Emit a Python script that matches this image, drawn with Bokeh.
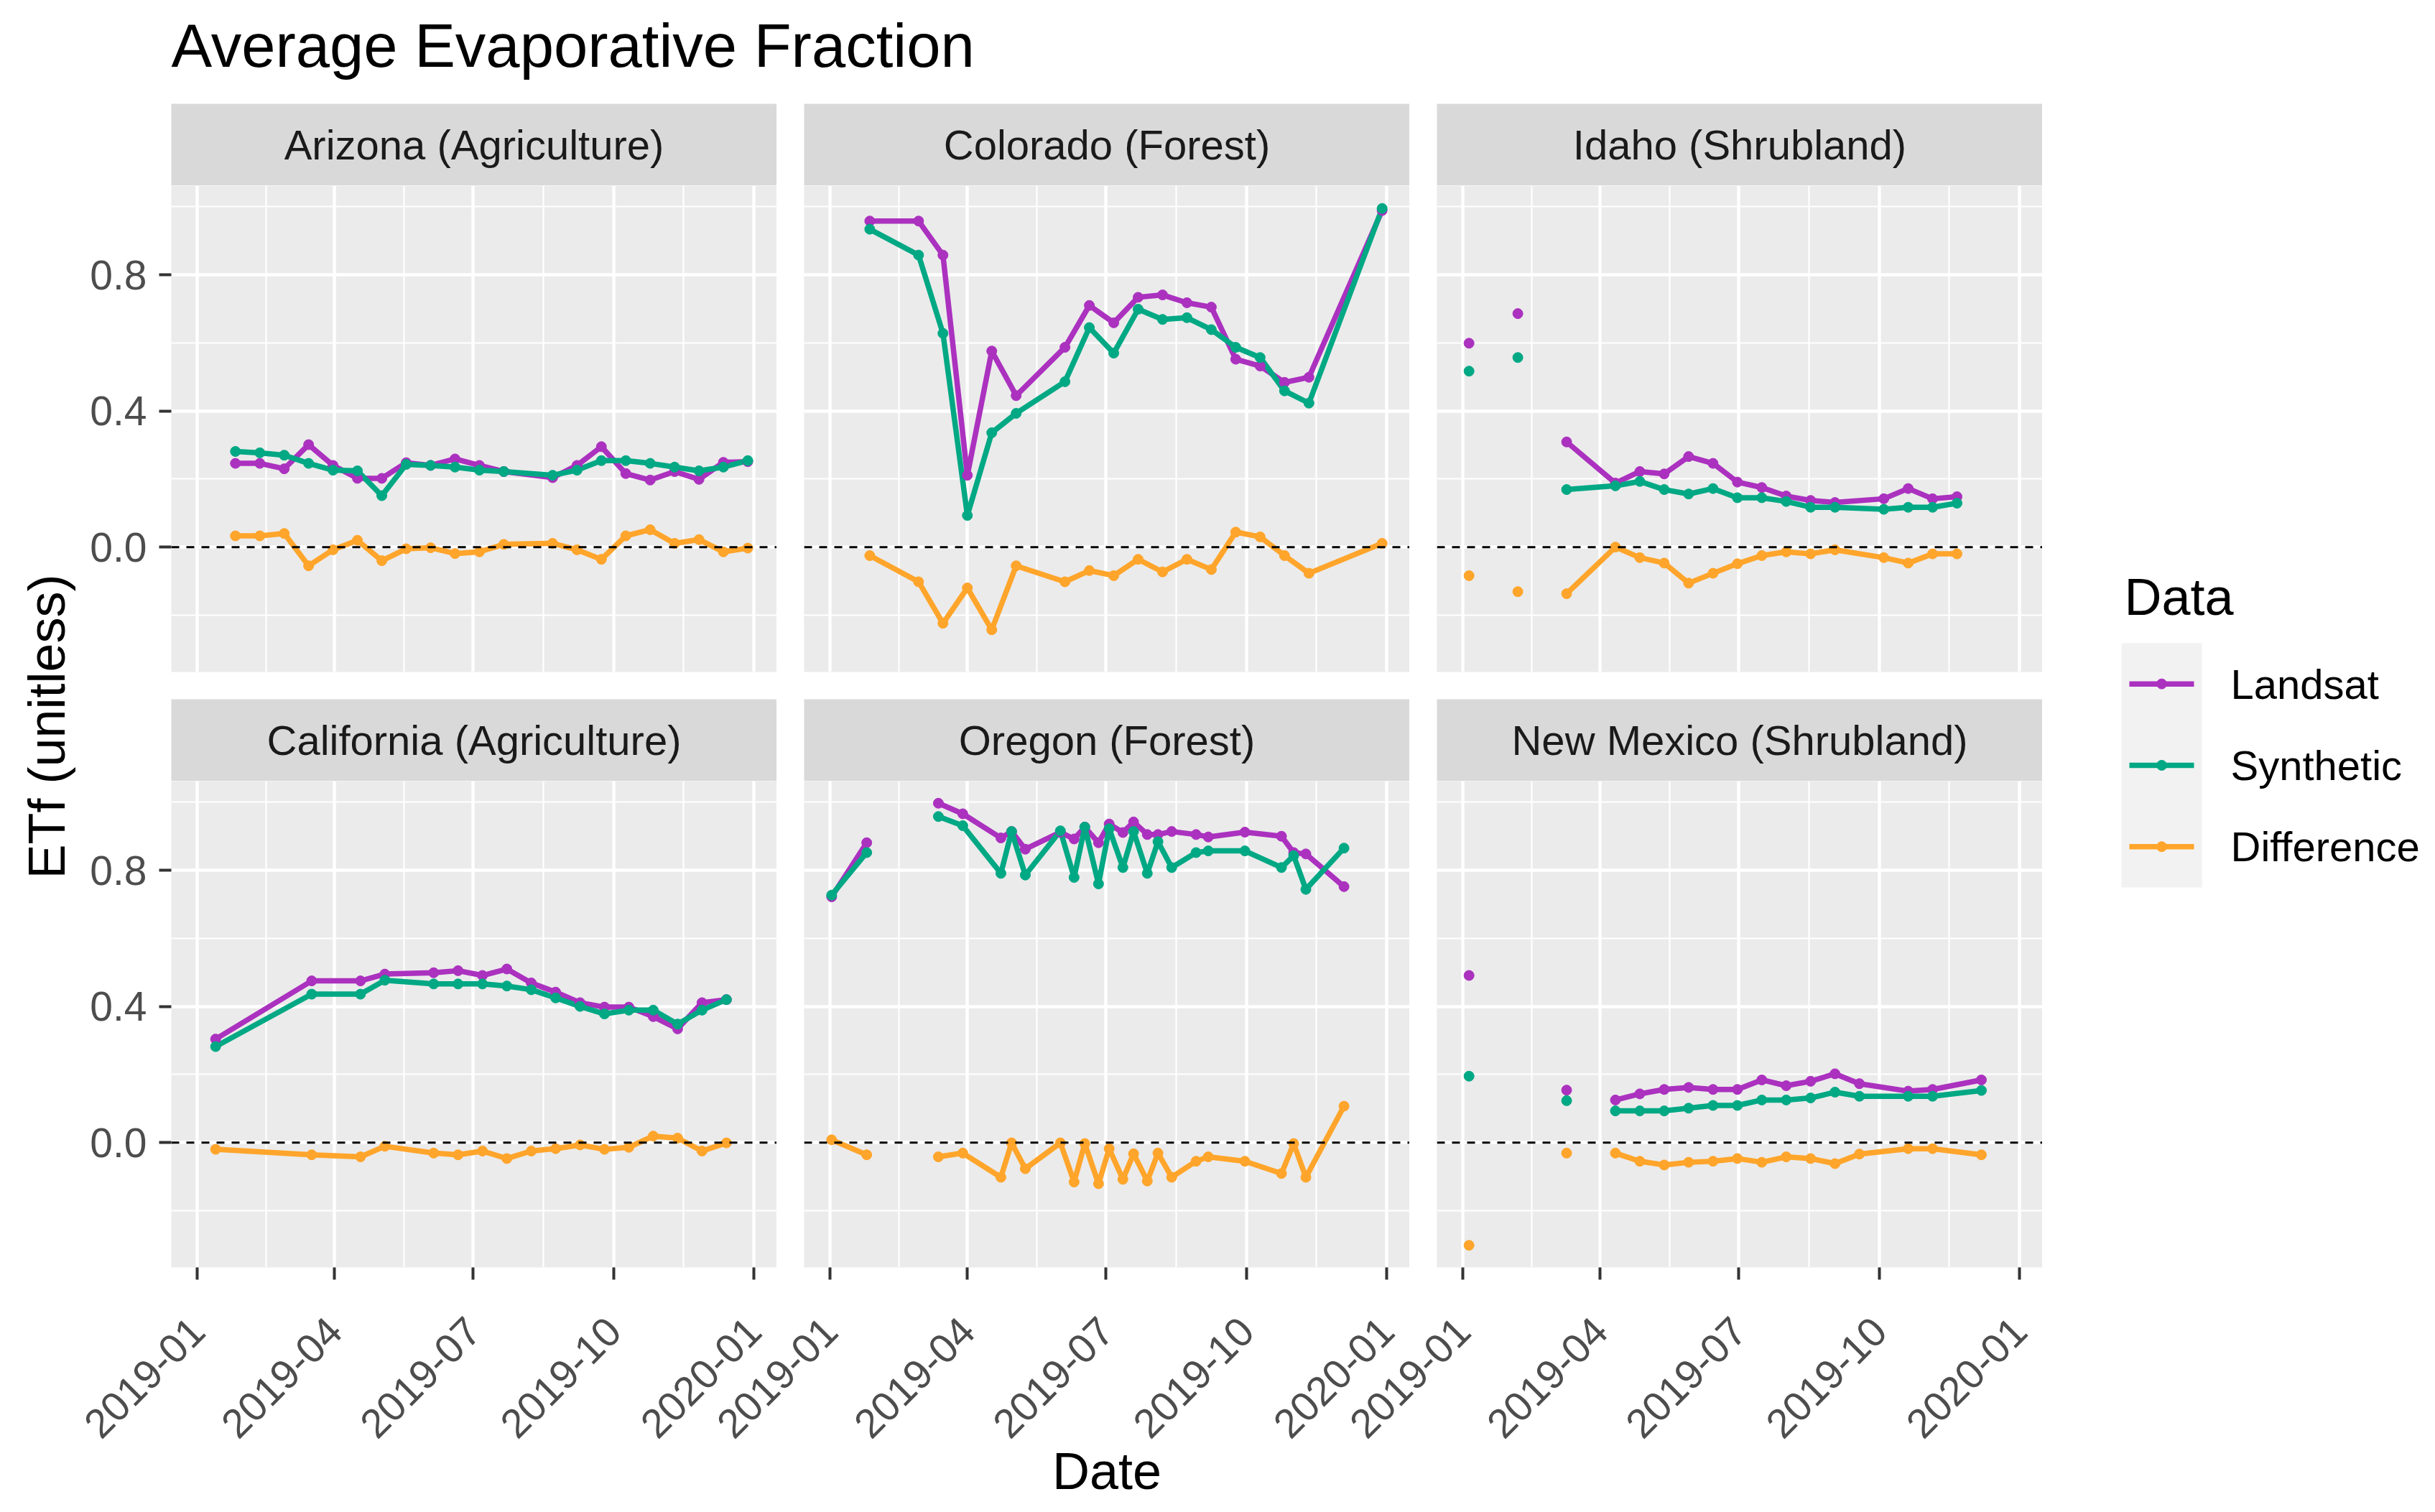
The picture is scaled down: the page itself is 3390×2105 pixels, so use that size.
import math
import numpy as np
import pandas as pd
from bokeh.plotting import figure
from bokeh.models import (ColumnDataSource, Range1d, FixedTicker, DatetimeTickFormatter,
                          PrintfTickFormatter, Span, GridBox)
from bokeh.embed import file_html
from bokeh.resources import INLINE
from bokeh.core.properties import value

# ---------------- data ----------------
series_names = ["Landsat", "Synthetic", "Difference"]

az_title = "Arizona (Agriculture)"
az_dates = ["2019-01-26", "2019-02-11", "2019-02-27", "2019-03-15", "2019-03-31", "2019-04-16",
            "2019-05-02", "2019-05-18", "2019-06-03", "2019-06-19", "2019-07-05", "2019-07-21",
            "2019-08-22", "2019-09-07", "2019-09-23", "2019-10-09", "2019-10-25", "2019-11-10",
            "2019-11-26", "2019-12-12", "2019-12-28"]
az_landsat = [0.246, 0.246, 0.230, 0.301, 0.240, 0.202, 0.202, 0.248, 0.240, 0.259, 0.240, 0.222,
              0.204, 0.240, 0.295, 0.216, 0.197, 0.222, 0.199, 0.249, 0.251]
az_synthetic = [0.281, 0.277, 0.270, 0.246, 0.226, 0.224, 0.151, 0.243, 0.240, 0.235, 0.226, 0.222,
                0.211, 0.226, 0.254, 0.254, 0.246, 0.235, 0.224, 0.235, 0.254]
az_difference = [0.033, 0.033, 0.040, -0.055, -0.008, 0.020, -0.040, -0.005, -0.002, -0.019, -0.014,
                 0.008, 0.011, -0.008, -0.036, 0.033, 0.051, 0.011, 0.022, -0.014, -0.003]

co_title = "Colorado (Forest)"
co_dates = ["2019-01-27", "2019-02-28", "2019-03-16", "2019-04-01", "2019-04-17", "2019-05-03",
            "2019-06-04", "2019-06-20", "2019-07-06", "2019-07-22", "2019-08-07", "2019-08-23",
            "2019-09-08", "2019-09-24", "2019-10-10", "2019-10-26", "2019-11-11", "2019-12-29"]
co_landsat = [0.958, 0.958, 0.858, 0.211, 0.576, 0.445, 0.587, 0.710, 0.659, 0.734, 0.741, 0.718,
              0.705, 0.552, 0.532, 0.484, 0.499, 0.989]
co_synthetic = [0.934, 0.858, 0.628, 0.093, 0.336, 0.393, 0.486, 0.645, 0.570, 0.699, 0.669, 0.674,
                0.639, 0.587, 0.557, 0.459, 0.423, 0.995]
co_difference = [-0.025, -0.102, -0.224, -0.120, -0.243, -0.055, -0.102, -0.069, -0.084, -0.036,
                 -0.073, -0.036, -0.066, 0.044, 0.030, -0.025, -0.077, 0.011]

id_title = "Idaho (Shrubland)"
id_dates = ["2019-01-05", "2019-01-21", "2019-02-06", "2019-02-22", "2019-03-10", "2019-04-11",
            "2019-04-27", "2019-05-13", "2019-05-29", "2019-06-14", "2019-06-30", "2019-07-16",
            "2019-08-01", "2019-08-17", "2019-09-02", "2019-10-04", "2019-10-20", "2019-11-05",
            "2019-11-21"]
id_landsat = [0.599, None, 0.686, None, 0.309, 0.188, 0.222, 0.215, 0.266, 0.246, 0.191, 0.175,
              0.150, 0.137, 0.131, 0.142, 0.172, 0.142, 0.148]
id_synthetic = [0.517, None, 0.557, None, 0.169, 0.180, 0.193, 0.169, 0.156, 0.172, 0.145, 0.145,
                0.134, 0.117, 0.117, 0.111, 0.117, 0.117, 0.129]
id_difference = [-0.084, None, -0.131, None, -0.137, 0.000, -0.031, -0.047, -0.106, -0.077, -0.049,
                 -0.025, -0.014, -0.020, -0.008, -0.031, -0.047, -0.020, -0.020]

ca_title = "California (Agriculture)"
ca_dates = ["2019-01-13", "2019-03-17", "2019-04-18", "2019-05-04", "2019-06-05", "2019-06-21",
            "2019-07-07", "2019-07-23", "2019-08-08", "2019-08-24", "2019-09-09", "2019-09-25",
            "2019-10-11", "2019-10-27", "2019-11-12", "2019-11-28", "2019-12-14"]
ca_landsat = [0.304, 0.475, 0.475, 0.495, 0.499, 0.505, 0.491, 0.510, 0.469, 0.442, 0.411, 0.398,
              0.398, 0.370, 0.334, 0.411, 0.420]
ca_synthetic = [0.282, 0.436, 0.436, 0.477, 0.466, 0.466, 0.466, 0.460, 0.449, 0.425, 0.400, 0.378,
                0.389, 0.389, 0.348, 0.389, 0.420]
ca_difference = [-0.020, -0.036, -0.042, -0.011, -0.031, -0.036, -0.025, -0.047, -0.025, -0.018,
                 -0.007, -0.020, -0.014, 0.019, 0.013, -0.025, -0.001]

or_title = "Oregon (Forest)"
or_dates = ["2019-01-02", "2019-01-25", "2019-02-18", "2019-03-13", "2019-03-29", "2019-04-23",
            "2019-04-30", "2019-05-09", "2019-06-01", "2019-06-10", "2019-06-17", "2019-06-26",
            "2019-07-03", "2019-07-12", "2019-07-19", "2019-07-28", "2019-08-04", "2019-08-13",
            "2019-08-29", "2019-09-06", "2019-09-30", "2019-10-24", "2019-11-01", "2019-11-09",
            "2019-12-04"]
or_landsat = [0.722, 0.881, None, 0.997, 0.966, 0.895, 0.914, 0.862, 0.912, 0.892, 0.927, 0.881,
              0.936, 0.911, 0.942, 0.905, 0.905, 0.914, 0.905, 0.898, 0.912, 0.900, 0.852, 0.848,
              0.752]
or_synthetic = [0.727, 0.852, None, 0.958, 0.931, 0.791, 0.914, 0.786, 0.916, 0.779, 0.927, 0.760,
                0.922, 0.808, 0.914, 0.791, 0.884, 0.808, 0.852, 0.857, 0.857, 0.808, 0.843, 0.744,
                0.865]
or_difference = [0.008, -0.036, None, -0.042, -0.031, -0.102, -0.001, -0.077, -0.001, -0.116, -0.003,
                 -0.121, -0.018, -0.108, -0.033, -0.113, -0.031, -0.102, -0.055, -0.042, -0.055,
                 -0.091, -0.003, -0.102, 0.107]

nm_title = "New Mexico (Shrubland)"
nm_dates = ["2019-01-05", "2019-01-21", "2019-03-10", "2019-03-26", "2019-04-11", "2019-04-27",
            "2019-05-13", "2019-05-29", "2019-06-14", "2019-06-30", "2019-07-16", "2019-08-01",
            "2019-08-17", "2019-09-02", "2019-09-18", "2019-10-20", "2019-11-05", "2019-12-07"]
nm_landsat = [0.491, None, 0.154, None, 0.125, 0.143, 0.156, 0.162, 0.156, 0.156, 0.184, 0.167,
              0.180, 0.202, 0.173, 0.151, 0.156, 0.184]
nm_synthetic = [0.195, None, 0.123, None, 0.093, 0.093, 0.093, 0.101, 0.109, 0.109, 0.125, 0.125,
                0.131, 0.148, 0.136, 0.136, 0.136, 0.153]
nm_difference = [-0.302, None, -0.031, None, -0.031, -0.055, -0.066, -0.058, -0.055, -0.047, -0.058,
                 -0.042, -0.047, -0.062, -0.034, -0.018, -0.018, -0.036]

x_tick_dates = ["2019-01-01", "2019-04-01", "2019-07-01", "2019-10-01", "2020-01-01"]
y_ticks = [0.0, 0.4, 0.8]
y_minor_ticks = [-0.2, 0.2, 0.6, 1.0]

# ---------------- styling / layout ----------------
FONT = "Liberation Sans"
COLORS = {"Landsat": "#AB31BF", "Synthetic": "#00A884", "Difference": "#FFA52B"}
LINE_W = 7.5
PT_SIZE = 14
FW, FH = 843, 677          # panel frame size
STRIP_H = 114
GAP = 38
YLAB_W = 110
PAD0 = 4                   # tiny first track so the first bottom panel starts on its own grid line
FRAME0_X = 238             # left edge of the first panel column
LEFT0 = FRAME0_X - YLAB_W  # left border of the first column (y tick labels)
BOTTOM = 340               # bottom border of the bottom row (x tick labels + "Date")
EXTRA = 220                # extra (transparent) canvas left of bottom panels, overlapping neighbour
LEG_W = 540
TITLE_H = 144

# grid tracks (CSS grid); bottom panels start on their own grid lines and overlap neighbours
COLS_PX = [PAD0, YLAB_W - PAD0, LEFT0 + FW - EXTRA, EXTRA, GAP + FW - EXTRA, EXTRA, GAP + FW, LEG_W]
ROWS_PX = [TITLE_H, STRIP_H, FH + GAP, STRIP_H, FH + BOTTOM]
TOTAL_W = sum(COLS_PX)
SIDE_H = sum(ROWS_PX[1:]) - BOTTOM   # frame height of the y-title and legend figures

sites = [
    (az_title, az_dates, az_landsat, az_synthetic, az_difference),
    (co_title, co_dates, co_landsat, co_synthetic, co_difference),
    (id_title, id_dates, id_landsat, id_synthetic, id_difference),
    (ca_title, ca_dates, ca_landsat, ca_synthetic, ca_difference),
    (or_title, or_dates, or_landsat, or_synthetic, or_difference),
    (nm_title, nm_dates, nm_landsat, nm_synthetic, nm_difference),
]


def arr(v):
    return np.array([np.nan if a is None else a for a in v], dtype=float)


# shared scales (ggplot-like 5% expansion)
all_dates = pd.to_datetime(sum([list(s[1]) for s in sites], []))
dmin, dmax = all_dates.min(), all_dates.max()
dspan = dmax - dmin
x_range = Range1d(start=dmin - 0.05 * dspan, end=dmax + 0.05 * dspan)
all_vals = np.concatenate([arr(v) for s in sites for v in s[2:]])
vmin, vmax = np.nanmin(all_vals), np.nanmax(all_vals)
vpad = 0.05 * (vmax - vmin)
y_range = Range1d(start=vmin - vpad, end=vmax + vpad)


def ms(d):
    return pd.Timestamp(d).value / 1e6


x_major = [ms(d) for d in x_tick_dates]
x_minor = [(a + b) / 2 for a, b in zip(x_major[:-1], x_major[1:])]


def base_fig(**kw):
    return figure(toolbar_location=None, output_backend="svg", title_location=None,
                  outline_line_color=None, **kw)


def blank_fig(w, h):
    """A figure whose frame is the whole canvas, with pixel-like ranges."""
    f = base_fig(frame_width=w, frame_height=h, x_range=Range1d(0, w), y_range=Range1d(0, h),
                 min_border_left=0, min_border_right=0, min_border_top=0, min_border_bottom=0,
                 x_axis_location=None, y_axis_location=None,
                 background_fill_color="white", border_fill_color="white")
    f.grid.visible = False
    return f


def strip_fig(name, col):
    s = base_fig(x_range=Range1d(0, 1), y_range=Range1d(0, 1), frame_width=FW, frame_height=STRIP_H,
                 min_border_left=(LEFT0 if col == 0 else GAP), min_border_right=0,
                 min_border_top=0, min_border_bottom=0, border_fill_color="white",
                 x_axis_location=None, y_axis_location=None, background_fill_color="#D9D9D9")
    s.grid.visible = False
    s.text(x=[0.5], y=[0.5], text=[name], text_align="center", text_baseline="middle",
           text_font=value(FONT), text_font_size="58px", text_color="#1A1A1A")
    return s


def panel_fig(site, col, bottom):
    name, dates, L, S, D = site
    if bottom:
        left = FRAME0_X - PAD0 if col == 0 else GAP + EXTRA
    else:
        left = LEFT0 if col == 0 else GAP
    p = base_fig(x_axis_type="datetime", x_range=x_range, y_range=y_range,
                 frame_width=FW, frame_height=FH,
                 min_border_left=left, min_border_right=0,
                 min_border_top=0, min_border_bottom=(BOTTOM if bottom else GAP),
                 x_axis_location=("below" if bottom else None),
                 y_axis_location=("left" if col == 0 else None),
                 border_fill_color=(None if bottom else "white"),
                 background_fill_color="#EBEBEB")
    p.xgrid.ticker = FixedTicker(ticks=x_major, minor_ticks=x_minor)
    p.ygrid.ticker = FixedTicker(ticks=y_ticks, minor_ticks=y_minor_ticks)
    for g in (p.xgrid, p.ygrid):
        g.grid_line_color = "white"
        g.grid_line_width = 4.4
        g.minor_grid_line_color = "white"
        g.minor_grid_line_width = 2.2

    axes = []
    if col == 0:
        ax = p.yaxis[0]
        ax.ticker = FixedTicker(ticks=y_ticks, minor_ticks=[])
        ax.formatter = PrintfTickFormatter(format="%.1f")
        axes.append(ax)
    if bottom:
        ax = p.xaxis[0]
        ax.ticker = FixedTicker(ticks=x_major, minor_ticks=[])
        ax.formatter = DatetimeTickFormatter(days="%Y-%m", months="%Y-%m", years="%Y-%m")
        ax.major_label_orientation = math.pi / 4
        ax.major_label_standoff = 62
        if col == 1:
            ax.axis_label = "Date"
            ax.axis_label_text_font = FONT
            ax.axis_label_text_font_size = "72px"
            ax.axis_label_text_font_style = "normal"
            ax.axis_label_text_color = "black"
            ax.axis_label_standoff = -15
        axes.append(ax)
    for ax in axes:
        ax.axis_line_color = None
        ax.major_tick_line_color = "#333333"
        ax.major_tick_line_width = 4
        ax.major_tick_out = 17
        ax.major_tick_in = 0
        ax.minor_tick_out = 0
        ax.minor_tick_in = 0
        ax.major_label_text_font = FONT
        ax.major_label_text_font_size = "57px"
        ax.major_label_text_color = "#4D4D4D"
    if col == 0:
        p.yaxis[0].major_label_standoff = 17

    p.add_layout(Span(location=0, dimension="width", line_color="black",
                      line_width=3, line_dash="11 10"))

    x = pd.to_datetime(dates)
    srcs = {}
    for nm_, vals in zip(series_names, (L, S, D)):
        srcs[nm_] = ColumnDataSource(dict(x=x, y=arr(vals)))
    for nm_ in series_names:
        p.line("x", "y", source=srcs[nm_], line_color=COLORS[nm_], line_width=LINE_W)
    for nm_ in series_names:
        p.scatter("x", "y", source=srcs[nm_], size=PT_SIZE, fill_color=COLORS[nm_],
                  line_color=COLORS[nm_])
    return p


def sy(screen_y):
    """screen y (from page top) -> y value in a side figure whose frame starts at TITLE_H"""
    return SIDE_H - (screen_y - TITLE_H)


# y-axis title
ylab = blank_fig(YLAB_W, SIDE_H)
ylab.text(x=[64], y=[sy(1011)], text=["ETf (unitless)"],
          angle=math.pi / 2, text_align="center", text_baseline="middle",
          text_font=value(FONT), text_font_size="72px", text_color="black")

# legend
LX0 = TOTAL_W - LEG_W
leg = blank_fig(LEG_W, SIDE_H)
key_top = sy(895)
key_h = 113.3
leg.text(x=[2957 - LX0], y=[sy(830)], text=["Data"], text_align="left", text_baseline="middle",
         text_font=value(FONT), text_font_size="72px", text_color="black")
leg.quad(left=[2953 - LX0], right=[3065 - LX0], top=[key_top], bottom=[key_top - 3 * key_h],
         fill_color="#F2F2F2", line_color=None)
for i, nm_ in enumerate(series_names):
    cy = key_top - (i + 0.5) * key_h
    leg.line(x=[2964 - LX0, 3054 - LX0], y=[cy, cy], line_color=COLORS[nm_], line_width=LINE_W)
    leg.scatter(x=[3009 - LX0], y=[cy], size=PT_SIZE, fill_color=COLORS[nm_], line_color=COLORS[nm_])
    leg.text(x=[3105 - LX0], y=[cy], text=[nm_], text_align="left", text_baseline="middle",
             text_font=value(FONT), text_font_size="58px", text_color="black")

# title
ttl = blank_fig(TOTAL_W, TITLE_H)
ttl.text(x=[FRAME0_X], y=[TITLE_H - 63], text=["Average Evaporative Fraction"],
         text_align="left", text_baseline="middle",
         text_font=value(FONT), text_font_size="85px", text_color="black")

# grid placement: (child, row, col, row_span, col_span); later children paint on top
NC = len(COLS_PX)
children = [
    (ttl, 0, 0, 1, NC),
    (ylab, 1, 0, 4, 2),
    (leg, 1, NC - 1, 4, 1),
]
col_start = [2, 4, 6]
col_span = [2, 2, 1]
bottom_start = [1, 3, 5]
bottom_span = [3, 3, 2]
for c in range(3):
    top, bot = sites[c], sites[c + 3]
    children.append((strip_fig(top[0], c), 1, col_start[c], 1, col_span[c]))
    children.append((panel_fig(top, c, False), 2, col_start[c], 1, col_span[c]))
    children.append((strip_fig(bot[0], c), 3, col_start[c], 1, col_span[c]))
for c in range(3):
    bot = sites[c + 3]
    children.append((panel_fig(bot, c, True), 4, bottom_start[c], 1, bottom_span[c]))

layout = GridBox(children=children,
                 cols=[f"{w}px" for w in COLS_PX],
                 rows=[f"{h}px" for h in ROWS_PX],
                 spacing=0)

open("out.html", "w").write(file_html(layout, INLINE))
